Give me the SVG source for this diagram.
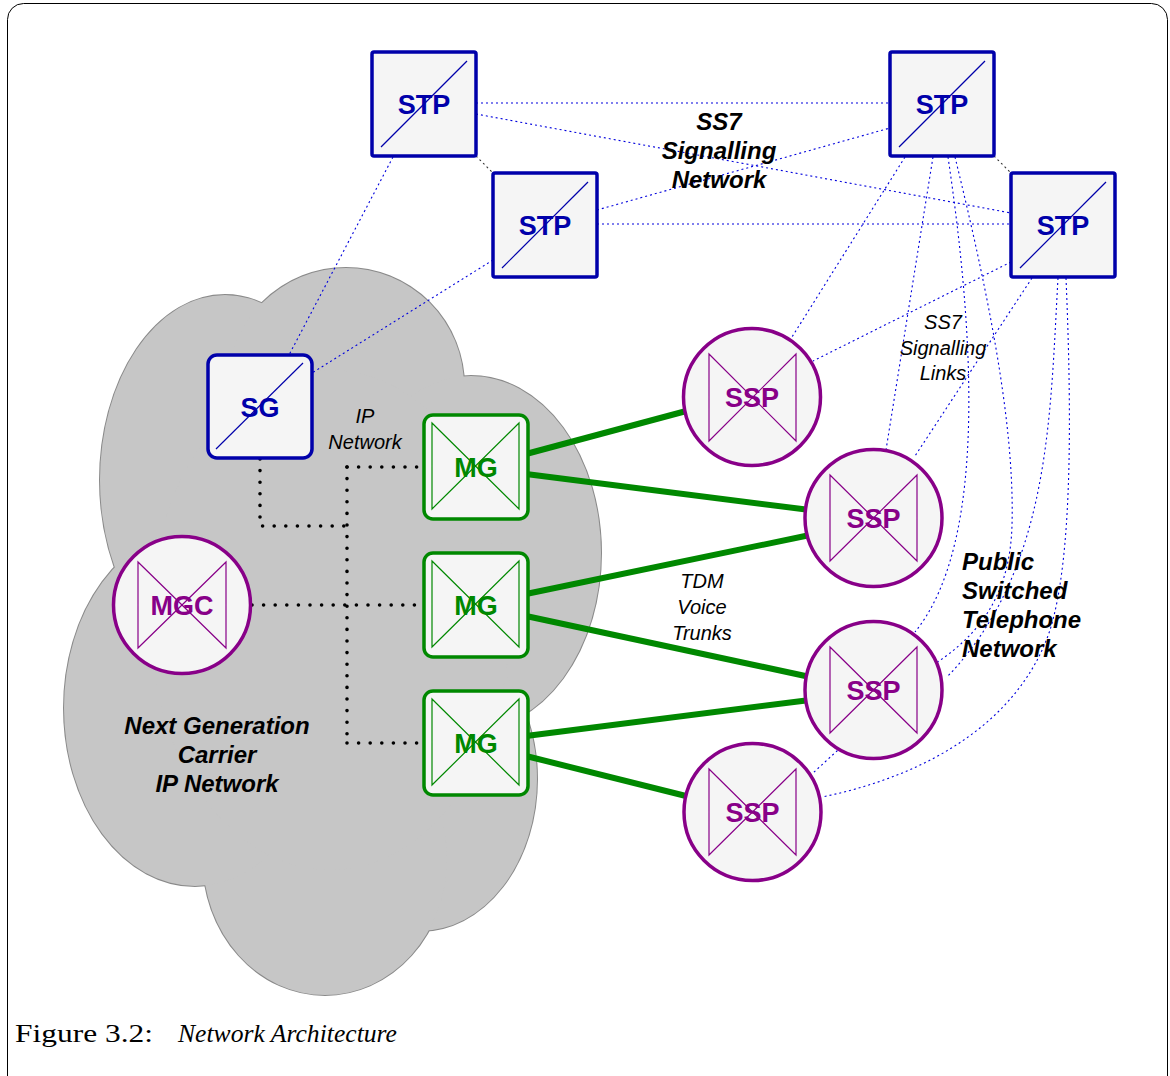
<svg xmlns="http://www.w3.org/2000/svg" width="1170" height="1076" viewBox="0 0 1170 1076">
<style>
.lbl{font-family:"Liberation Sans",Arial,sans-serif;font-weight:bold;font-size:27px;text-anchor:middle}
.bl{fill:#0000aa}.gr{fill:#008800}.pu{fill:#880088}
.box{fill:#f5f5f5;stroke:#0000aa;stroke-width:3.5}
.mg{fill:#f5f5f5;stroke:#008800;stroke-width:3.5}
.circ{fill:#f5f5f5;stroke:#880088;stroke-width:3.5}
.diag{stroke:#0000aa;stroke-width:1.2;fill:none}
.bowg{stroke:#008800;stroke-width:1.2;fill:none}
.bowp{stroke:#880088;stroke-width:1.2;fill:none}
.ss7{stroke:#0000dd;stroke-width:1.1;stroke-dasharray:2 3;fill:none}
.mate{stroke:#333;stroke-width:1.1;stroke-dasharray:2 3;fill:none}
.ip{stroke:#000;stroke-width:3.6;stroke-dasharray:0 11.6;stroke-linecap:round;fill:none}
.tdm{stroke:#008800;stroke-width:6;fill:none}
.bi{font-family:"Liberation Sans",Arial,sans-serif;font-weight:bold;font-style:italic;font-size:24px;fill:#000}
.it{font-family:"Liberation Sans",Arial,sans-serif;font-style:italic;font-size:20px;fill:#000}
.cap{font-family:"Liberation Serif","Times New Roman",serif;font-size:26px;fill:#000}
.capi{font-family:"Liberation Serif","Times New Roman",serif;font-size:26px;font-style:italic;fill:#000}
.cl{fill:#c6c6c6}
</style>
<rect x="7.5" y="3.5" width="1160" height="1090" rx="16" fill="#fff" stroke="#000" stroke-width="1"/>
<g id="cloud">
<g class="cl" stroke="#8a8a8a" stroke-width="2">
<ellipse cx="225" cy="480" rx="125" ry="185"/>
<ellipse cx="346" cy="386" rx="118" ry="118"/>
<ellipse cx="471" cy="553" rx="130" ry="177"/>
<ellipse cx="420" cy="779" rx="117" ry="152"/>
<ellipse cx="325" cy="859" rx="122" ry="136"/>
<ellipse cx="195" cy="708" rx="131" ry="178"/>
</g>
<g class="cl">
<ellipse cx="225" cy="480" rx="125" ry="185"/>
<ellipse cx="346" cy="386" rx="118" ry="118"/>
<ellipse cx="471" cy="553" rx="130" ry="177"/>
<ellipse cx="420" cy="779" rx="117" ry="152"/>
<ellipse cx="325" cy="859" rx="122" ry="136"/>
<ellipse cx="195" cy="708" rx="131" ry="178"/>
<ellipse cx="330" cy="620" rx="180" ry="250"/>
</g>
</g>
<g id="connectors">
<path class="ss7" d="M476,103 L890,103"/>
<path class="ss7" d="M476,114 L1011,213"/>
<path class="ss7" d="M597,210 L890,128"/>
<path class="ss7" d="M597,224 L1011,224"/>
<path class="ss7" d="M393,157 L289,355"/>
<path class="ss7" d="M493,260 L312,373"/>
<path class="ss7" d="M905,157 L792,337"/>
<path class="ss7" d="M933,157 L886,450"/>
<path class="ss7" d="M1032,278 L915,456"/>
<path class="ss7" d="M1011,262 L813,361"/>
<path class="ss7" d="M948,157 C972,320 990,540 915,632"/>
<path class="ss7" d="M955,157 C985,280 1015,420 1012,525 C1010,600 975,640 925,670 L813,773"/>
<path class="ss7" d="M1058,278 C1050,420 1050,570 947,677"/>
<path class="ss7" d="M1066,278 C1072,420 1072,560 1050,630 C1020,720 930,775 822,797"/>
<path class="mate" d="M476,156 L493,173"/>
<path class="mate" d="M994,156 L1011,173"/>
<path class="ip" d="M260,459 L260,526 L347,526"/>
<path class="ip" d="M347,467 L347,743"/>
<path class="ip" d="M347,467 L424,467"/>
<path class="ip" d="M252,605 L424,605"/>
<path class="ip" d="M347,743 L424,743"/>
<path class="tdm" d="M526,454 L690,410"/>
<path class="tdm" d="M526,474 L810,510"/>
<path class="tdm" d="M526,594 L810,535"/>
<path class="tdm" d="M526,616 L810,677"/>
<path class="tdm" d="M526,736 L810,700"/>
<path class="tdm" d="M526,756 L690,797"/>
</g>
<g id="stp1"><rect class="box" x="372" y="52" width="104" height="104" rx="2"/><path class="diag" d="M381,147 L467,61"/><text class="lbl bl" x="424" y="114">STP</text></g>
<g id="stp2"><rect class="box" x="493" y="173" width="104" height="104" rx="2"/><path class="diag" d="M502,268 L588,182"/><text class="lbl bl" x="545" y="235">STP</text></g>
<g id="stp3"><rect class="box" x="890" y="52" width="104" height="104" rx="2"/><path class="diag" d="M899,147 L985,61"/><text class="lbl bl" x="942" y="114">STP</text></g>
<g id="stp4"><rect class="box" x="1011" y="173" width="104" height="104" rx="2"/><path class="diag" d="M1020,268 L1106,182"/><text class="lbl bl" x="1063" y="235">STP</text></g>
<g id="sg"><rect class="box" x="208" y="355" width="104" height="103" rx="9"/><path class="diag" d="M216,449 L303,363"/><text class="lbl bl" x="260" y="417">SG</text></g>
<g id="mg1"><rect class="mg" x="424" y="415" width="104" height="104" rx="9"/><path class="bowg" d="M432,423 L519,509 L519,423 L432,509 Z"/><text class="lbl gr" x="476" y="477">MG</text></g>
<g id="mg2"><rect class="mg" x="424" y="553" width="104" height="104" rx="9"/><path class="bowg" d="M432,561 L519,647 L519,561 L432,647 Z"/><text class="lbl gr" x="476" y="615">MG</text></g>
<g id="mg3"><rect class="mg" x="424" y="691" width="104" height="104" rx="9"/><path class="bowg" d="M432,699 L519,785 L519,699 L432,785 Z"/><text class="lbl gr" x="476" y="753">MG</text></g>
<g id="mgc"><circle class="circ" cx="182" cy="605" r="68.5"/><path class="bowp" d="M138,562 L226,648 L226,562 L138,648 Z"/><text class="lbl pu" x="182" y="615">MGC</text></g>
<g id="ssp1"><circle class="circ" cx="752" cy="397" r="68.5"/><path class="bowp" d="M709,354 L796,441 L796,354 L709,441 Z"/><text class="lbl pu" x="752" y="407">SSP</text></g>
<g id="ssp2"><circle class="circ" cx="873.5" cy="518" r="68.5"/><path class="bowp" d="M830,475 L917,561 L917,475 L830,561 Z"/><text class="lbl pu" x="873.5" y="528">SSP</text></g>
<g id="ssp3"><circle class="circ" cx="873.5" cy="690" r="68.5"/><path class="bowp" d="M830,647 L917,733 L917,647 L830,733 Z"/><text class="lbl pu" x="873.5" y="700">SSP</text></g>
<g id="ssp4"><circle class="circ" cx="752.5" cy="812" r="68.5"/><path class="bowp" d="M709,769 L796,855 L796,769 L709,855 Z"/><text class="lbl pu" x="752.5" y="822">SSP</text></g>
<g id="labels">
<text class="bi" text-anchor="middle"><tspan x="719" y="130">SS7</tspan><tspan x="719" y="159">Signalling</tspan><tspan x="719" y="188">Network</tspan></text>
<text class="it" text-anchor="middle"><tspan x="365" y="423">IP</tspan><tspan x="365" y="449">Network</tspan></text>
<text class="it" text-anchor="middle"><tspan x="943" y="329">SS7</tspan><tspan x="943" y="355">Signalling</tspan><tspan x="943" y="380">Links</tspan></text>
<text class="it" text-anchor="middle"><tspan x="702" y="588">TDM</tspan><tspan x="702" y="614">Voice</tspan><tspan x="702" y="640">Trunks</tspan></text>
<text class="bi"><tspan x="962" y="570">Public</tspan><tspan x="962" y="599">Switched</tspan><tspan x="962" y="628">Telephone</tspan><tspan x="962" y="657">Network</tspan></text>
<text class="bi" text-anchor="middle"><tspan x="217" y="734">Next Generation</tspan><tspan x="217" y="763">Carrier</tspan><tspan x="217" y="792">IP Network</tspan></text>
</g>
<g id="caption">
<text class="cap" x="15" y="1042" textLength="138" lengthAdjust="spacingAndGlyphs">Figure 3.2:</text>
<text class="capi" x="178" y="1042" textLength="219" lengthAdjust="spacingAndGlyphs">Network Architecture</text>
</g>
</svg>
